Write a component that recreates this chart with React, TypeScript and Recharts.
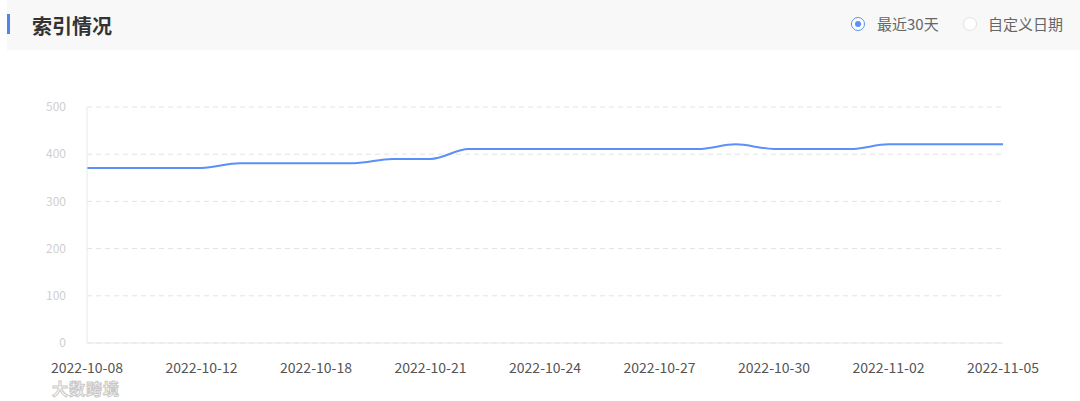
import { LineChart, Line, XAxis, YAxis, CartesianGrid } from 'recharts';

const dates = [
  '2022-10-08', '2022-10-09', '2022-10-11', '2022-10-12', '2022-10-14',
  '2022-10-16', '2022-10-18', '2022-10-19', '2022-10-20', '2022-10-21',
  '2022-10-22', '2022-10-23', '2022-10-24', '2022-10-25', '2022-10-26',
  '2022-10-27', '2022-10-28', '2022-10-29', '2022-10-30', '2022-10-31',
  '2022-11-01', '2022-11-02', '2022-11-03', '2022-11-04', '2022-11-05',
];

const indexed = [
  371, 371, 371, 371, 381, 381, 381, 381, 390, 390,
  411, 411, 411, 411, 411, 411, 411, 421, 411, 411,
  411, 421, 421, 421, 421,
];

const yTicks = [0, 100, 200, 300, 400, 500];

const data = dates.map((d, i) => ({ date: d, value: indexed[i] }));

const font = '"Noto Sans CJK SC", "Noto Sans", sans-serif';

export default function App() {
  return (
    <div
      style={{
        position: 'absolute',
        left: 0,
        top: 0,
        width: 1080,
        height: 401,
        background: '#fff',
        fontFamily: font,
        overflow: 'hidden',
      }}
    >
      {/* header */}
      <div
        style={{
          position: 'absolute',
          left: 7,
          top: 0,
          width: 1073,
          height: 50,
          background: '#f8f8f8',
        }}
      >
        <div style={{ position: 'absolute', left: 0, top: 14, width: 3, height: 20, background: '#4f86ec' }} />
        <div
          style={{
            position: 'absolute',
            left: 25,
            top: 12,
            fontSize: 20,
            lineHeight: '28px',
            fontWeight: 'bold',
            color: '#333',
          }}
        >
          索引情况
        </div>
        <div style={{ position: 'absolute', left: 844, top: 17, width: 12, height: 12, borderRadius: 8, border: '1px solid #5b8ff9', background: '#fff' }}>
          <div style={{ position: 'absolute', left: 3, top: 3, width: 6, height: 6, borderRadius: 3, background: '#5b8ff9' }} />
        </div>
        <div style={{ position: 'absolute', left: 870, top: 14, fontSize: 15, lineHeight: '20px', color: '#666' }}>最近30天</div>
        <div style={{ position: 'absolute', left: 956, top: 17, width: 12, height: 12, borderRadius: 8, border: '1px solid #e2e2e2', background: '#fff' }} />
        <div style={{ position: 'absolute', left: 981, top: 14, fontSize: 15, lineHeight: '20px', color: '#666' }}>自定义日期</div>
      </div>

      <div style={{ position: 'absolute', left: 0, top: 0 }}>
        <LineChart
          width={1080}
          height={401}
          data={data}
          margin={{ top: 107, right: 77, left: 27, bottom: 28 }}
        >
          <CartesianGrid vertical={false} stroke="#e3e3e3" strokeDasharray="5 4" />
          <XAxis
            dataKey="date"
            interval={2}
            height={30}
            axisLine={{ stroke: '#e8e8e8' }}
            tickLine={false}
            tickSize={0}
            tickMargin={20}
            tick={{ fill: '#555', fontSize: 14, fontFamily: font }}
          />
          <YAxis
            width={60}
            domain={[0, 500]}
            ticks={yTicks}
            axisLine={{ stroke: '#e8e8e8' }}
            tickLine={false}
            tickSize={0}
            tickMargin={21}
            tick={{ fill: '#cfcfcf', fontSize: 12, fontFamily: font }}
          />
          <Line
            type="monotone"
            dataKey="value"
            stroke="#5b8ff9"
            strokeWidth={2}
            dot={false}
            isAnimationActive={false}
          />
        </LineChart>
      </div>

      {/* watermark */}
      <div
        style={{
          position: 'absolute',
          left: 52,
          top: 378,
          fontSize: 16,
          lineHeight: '20px',
          fontWeight: 'bold',
          color: 'rgba(255,255,255,0.85)',
          WebkitTextStroke: '1px #c8c8c8',
          letterSpacing: 1,
        }}
      >
        大数跨境
      </div>
    </div>
  );
}
